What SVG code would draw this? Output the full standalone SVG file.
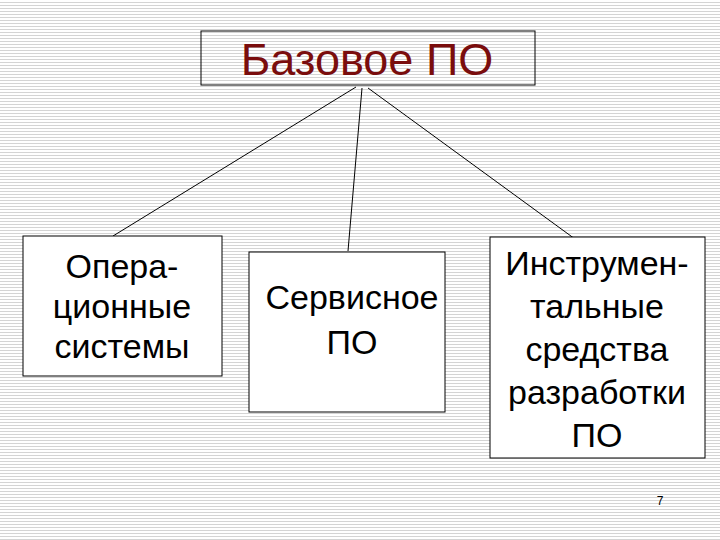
<svg xmlns="http://www.w3.org/2000/svg" width="720" height="540" viewBox="0 0 720 540">
<defs><pattern id="st" width="4" height="3" patternUnits="userSpaceOnUse"><rect width="4" height="3" fill="#fff"/><rect y="2" width="4" height="1" fill="#d4d4d4"/></pattern>
<style>.b{fill:#fff;stroke:#000;stroke-width:1}.t{font-family:"Liberation Sans",Arial,sans-serif;font-size:34px;text-anchor:middle;fill:#000}</style></defs>
<rect width="720" height="540" fill="url(#st)"/>
<g id="connectors" stroke="#000" stroke-width="1" fill="none">
<line x1="356" y1="87" x2="113" y2="236"/><line x1="362" y1="88" x2="348" y2="251"/><line x1="368" y1="88" x2="575" y2="239"/></g>
<g id="root"><rect x="201" y="31" width="334" height="54" fill="none" stroke="#000"/><text x="367" y="75" font-family="Liberation Sans,Arial,sans-serif" font-size="45" text-anchor="middle" fill="#7a0d0d">Базовое ПО</text></g>
<g id="os"><rect class="b" x="23" y="236" width="199" height="140"/><text class="t" x="122" y="278">Опера-</text><text class="t" x="122" y="318">ционные</text><text class="t" x="122" y="358">системы</text></g>
<g id="service"><rect class="b" x="249" y="252" width="196" height="160"/><text class="t" x="352" y="309">Сервисное</text><text class="t" x="352" y="354">ПО</text></g>
<g id="tools"><rect class="b" x="490" y="237" width="215" height="221"/><text class="t" x="597" y="275">Инструмен-</text><text class="t" x="597" y="318">тальные</text><text class="t" x="597" y="361">средства</text><text class="t" x="597" y="404">разработки</text><text class="t" x="597" y="447">ПО</text></g>
<text x="660" y="505" font-family="Liberation Sans,Arial,sans-serif" font-size="12" text-anchor="middle">7</text>
</svg>
